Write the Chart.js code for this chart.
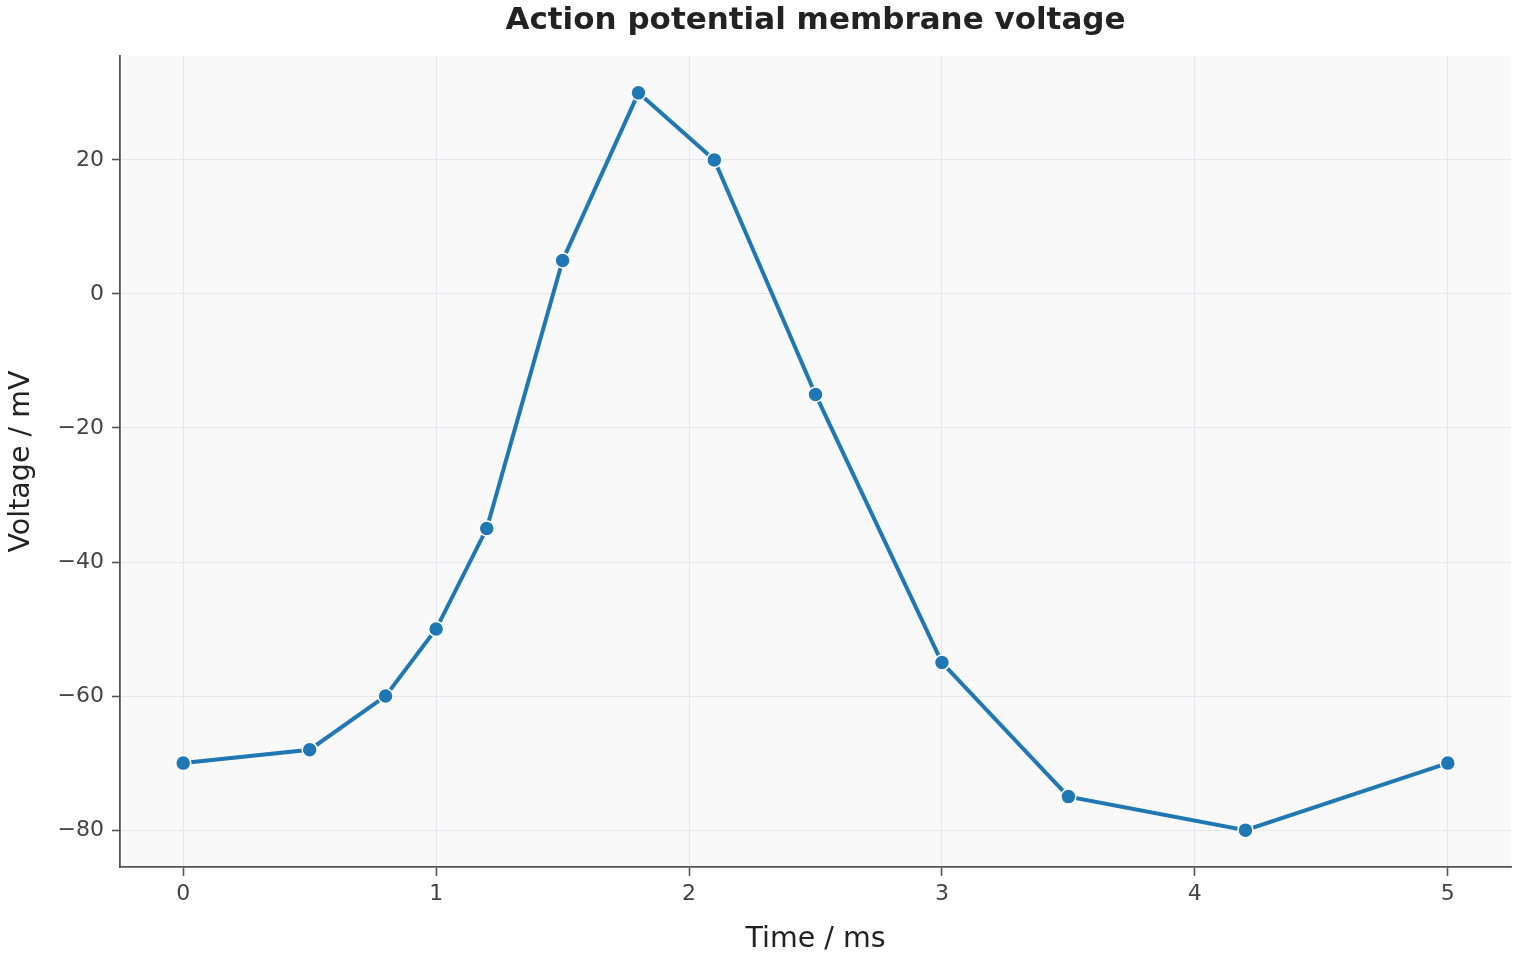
<!DOCTYPE html>
<html>
<head>
<meta charset="utf-8">
<script src="https://cdn.jsdelivr.net/npm/chart.js@4.4.1/dist/chart.umd.min.js"></script>
<style>
    html, body { margin: 0; padding: 0; background: #ffffff; }
    #wrap { width: 1520px; height: 960px; }
</style>
</head>
<body>
<div id="wrap"><canvas id="apChart" width="1520" height="960"></canvas></div>
<script>
// datos
const timeMs = [0, 0.5, 0.8, 1, 1.2, 1.5, 1.8, 2.1, 2.5, 3, 3.5, 4.2, 5];
const voltageMv = [-70, -68, -60, -50, -35, 5, 30, 20, -15, -55, -75, -80, -70];
const xTicks = [0, 1, 2, 3, 4, 5];
const yTicks = [-80, -60, -40, -20, 0, 20];

const points = timeMs.map((t, i) => ({ x: t, y: voltageMv[i] }));

// fondo gris claro del área de trazado
const plotBackground = {
    id: 'plotBackground',
    beforeDraw(chart) {
        const { ctx, chartArea } = chart;
        ctx.save();
        ctx.fillStyle = '#f9f9f9';
        ctx.fillRect(chartArea.left, chartArea.top, chartArea.right - chartArea.left, chartArea.bottom - chartArea.top);
        ctx.restore();
    }
};

// título centrado sobre el área de trazado
const centeredTitle = {
    id: 'centeredTitle',
    afterDraw(chart) {
        const { ctx, chartArea } = chart;
        ctx.save();
        ctx.font = 'bold 31px "DejaVu Sans"';
        ctx.fillStyle = '#222222';
        ctx.textAlign = 'center';
        ctx.textBaseline = 'middle';
        ctx.fillText('Action potential membrane voltage', (chartArea.left + chartArea.right) / 2, 21);
        ctx.restore();
    }
};

const ctx = document.getElementById('apChart').getContext('2d');
new Chart(ctx, {
    type: 'scatter',
    data: {
        datasets: [{
            label: 'Voltage',
            data: points,
            showLine: true,
            borderColor: '#1f77b4',
            borderWidth: 4,
            backgroundColor: '#1f77b4',
            pointRadius: 7.5,
            pointBorderColor: '#ffffff',
            pointBorderWidth: 1.5,
            pointHoverRadius: 7.5
        }]
    },
    options: {
        responsive: false,
        animation: false,
        layout: { padding: { top: 56, right: 5, bottom: 0, left: 0 } },
        plugins: {
            legend: { display: false },
            tooltip: { enabled: false }
        },
        scales: {
            x: {
                type: 'linear',
                min: -0.25,
                max: 5.25,
                afterBuildTicks: (scale) => { scale.ticks = xTicks.map(v => ({ value: v })); },
                afterFit: (scale) => { scale.height = 93; },
                grid: { color: '#e4e6ea', lineWidth: 1, tickColor: '#555555', tickLength: 9, tickWidth: 1.6 },
                border: { display: true, color: '#555555', width: 1.8 },
                ticks: { color: '#444444', font: { family: 'DejaVu Sans', size: 22 }, padding: 5 },
                title: { display: true, text: 'Time / ms', color: '#222222', font: { family: 'DejaVu Sans', size: 28.5 }, padding: { top: 4, bottom: 3 } }
            },
            y: {
                type: 'linear',
                min: -85.5,
                max: 35.5,
                afterBuildTicks: (scale) => { scale.ticks = yTicks.map(v => ({ value: v })); },
                afterFit: (scale) => { scale.width = 120; },
                grid: { color: '#e4e6ea', lineWidth: 1, tickColor: '#555555', tickLength: 8, tickWidth: 1.6 },
                border: { display: true, color: '#555555', width: 1.8 },
                ticks: {
                    color: '#444444',
                    font: { family: 'DejaVu Sans', size: 22 },
                    padding: 8,
                    callback: (v) => String(v).replace('-', '\u2212')
                },
                title: { display: true, text: 'Voltage / mV', color: '#222222', font: { family: 'DejaVu Sans', size: 28.5 }, padding: { top: 4, bottom: 4 } }
            }
        }
    },
    plugins: [plotBackground, centeredTitle]
});
</script>
</body>
</html>
